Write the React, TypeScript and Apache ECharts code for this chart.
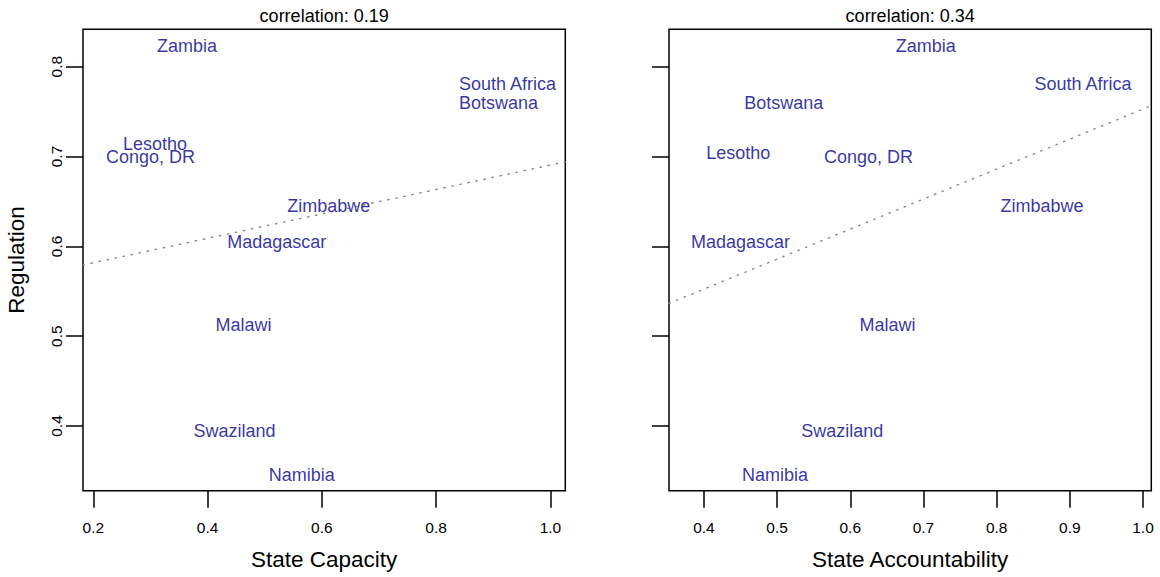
import React, { useEffect, useRef } from "react";
import * as echarts from "echarts";

// Country-level indices
const countries = [
  "Zambia",
  "South Africa",
  "Botswana",
  "Lesotho",
  "Congo, DR",
  "Zimbabwe",
  "Madagascar",
  "Malawi",
  "Swaziland",
  "Namibia",
];
const stateCapacity = [0.364, 0.925, 0.909, 0.308, 0.3, 0.612, 0.521, 0.463, 0.447, 0.565];
const stateAccountability = [0.703, 0.918, 0.509, 0.447, 0.625, 0.862, 0.45, 0.651, 0.589, 0.497];
const regulation = [0.823, 0.781, 0.76, 0.704, 0.7, 0.645, 0.605, 0.513, 0.395, 0.346];

// Least-squares fits shown as dotted lines
const capacityFit = { intercept: 0.5545, slope: 0.136 };
const accountabilityFit = { intercept: 0.4188, slope: 0.334 };

const correlationTitles = ["correlation: 0.19", "correlation: 0.34"];
const xTicksCapacity = [0.2, 0.4, 0.6, 0.8, 1.0];
const xTicksAccountability = [0.4, 0.5, 0.6, 0.7, 0.8, 0.9, 1.0];
const yTicks = [0.4, 0.5, 0.6, 0.7, 0.8];

const xRangeCapacity = [0.182, 1.026];
const xRangeAccountability = [0.3523, 1.0113];
const yRange = [0.328, 0.8416];

const FONT = "'Liberation Sans', Arial, Helvetica, sans-serif";
const LABEL_BLUE = "#00008b";

const GRID_TOP = 29.3;
const GRID_H = 461.4;
const GRID_W = 482.3;
const GRID_LEFTS = [83, 669];

function fitLine(fit: { intercept: number; slope: number }, range: number[]) {
  return range.map((x) => [x, fit.intercept + fit.slope * x]);
}

export default function App() {
  const ref = useRef<HTMLDivElement>(null);

  useEffect(() => {
    if (!ref.current) return;
    const chart = echarts.init(ref.current, null, { renderer: "svg" });

    const tickStyle = { show: true, inside: false, length: 17, lineStyle: { color: "#000", width: 1.5 } };
    const tickLabel = { color: "#000", fontSize: 15.5, fontFamily: FONT };

    const xAxis = (idx: number, range: number[], ticks: number[], name: string) => ({
      type: "value",
      gridIndex: idx,
      min: range[0],
      max: range[1],
      name,
      nameLocation: "middle",
      nameGap: 57,
      nameMoveOverlap: false,
      nameTextStyle: { color: "#000", fontSize: 22.5, fontFamily: FONT },
      axisLine: { show: false },
      axisTick: { ...tickStyle, customValues: ticks },
      axisLabel: {
        ...tickLabel,
        margin: 29,
        customValues: ticks,
        formatter: (v: number) => v.toFixed(1),
      },
      splitLine: { show: false },
    });

    const yAxis = (idx: number, withLabels: boolean) => ({
      type: "value",
      gridIndex: idx,
      min: yRange[0],
      max: yRange[1],
      name: withLabels ? "Regulation" : "",
      nameLocation: "middle",
      nameGap: 55,
      nameMoveOverlap: false,
      nameTextStyle: { color: "#000", fontSize: 22.5, fontFamily: FONT },
      axisLine: { show: false },
      axisTick: { ...tickStyle, customValues: yTicks },
      axisLabel: {
        ...tickLabel,
        show: withLabels,
        rotate: 90,
        margin: 19,
        customValues: yTicks,
        formatter: (v: number) => v.toFixed(1),
      },
      splitLine: { show: false },
    });

    const labelSeries = (idx: number, xs: number[], nudge: Record<string, number[]>) => ({
      type: "scatter",
      xAxisIndex: idx,
      yAxisIndex: idx,
      symbolSize: 1,
      itemStyle: { color: "transparent" },
      z: 5,
      label: {
        show: true,
        position: "inside",
        formatter: "{b}",
        color: LABEL_BLUE,
        fontSize: 18,
        fontFamily: FONT,
      },
      data: countries.map((name, i) => ({
        name,
        value: [xs[i], regulation[i]],
        label: nudge[name] ? { offset: nudge[name] } : undefined,
      })),
    });

    const fitSeries = (idx: number, fit: { intercept: number; slope: number }, range: number[]) => ({
      type: "line",
      xAxisIndex: idx,
      yAxisIndex: idx,
      showSymbol: false,
      silent: true,
      z: 1,
      lineStyle: { color: "#888", width: 1.4, type: [1.4, 6.8], cap: "round" },
      data: fitLine(fit, range),
    });

    chart.setOption({
      animation: false,
      textStyle: { fontFamily: FONT },
      grid: GRID_LEFTS.map((left) => ({
        left,
        top: GRID_TOP,
        width: GRID_W,
        height: GRID_H,
        show: true,
        borderColor: "#000",
        borderWidth: 1.5,
        backgroundColor: "transparent",
        containLabel: false,
        outerBoundsMode: "none",
      })),
      graphic: correlationTitles.map((text, i) => ({
        type: "text",
        x: GRID_LEFTS[i] + GRID_W / 2,
        y: 16,
        style: {
          text,
          textAlign: "center",
          textVerticalAlign: "middle",
          fill: "#000",
          fontSize: 18,
          fontFamily: FONT,
        },
      })),
      xAxis: [
        xAxis(0, xRangeCapacity, xTicksCapacity, "State Capacity"),
        xAxis(1, xRangeAccountability, xTicksAccountability, "State Accountability"),
      ],
      yAxis: [yAxis(0, true), yAxis(1, false)],
      series: [
        fitSeries(0, capacityFit, xRangeCapacity),
        fitSeries(1, accountabilityFit, xRangeAccountability),
        labelSeries(0, stateCapacity, { Lesotho: [0, -9] }),
        labelSeries(1, stateAccountability, {}),
      ],
    });

    return () => chart.dispose();
  }, []);

  return (
    <div
      ref={ref}
      style={{ position: "absolute", left: 0, top: 0, width: 1160, height: 577, background: "#fff" }}
    />
  );
}
